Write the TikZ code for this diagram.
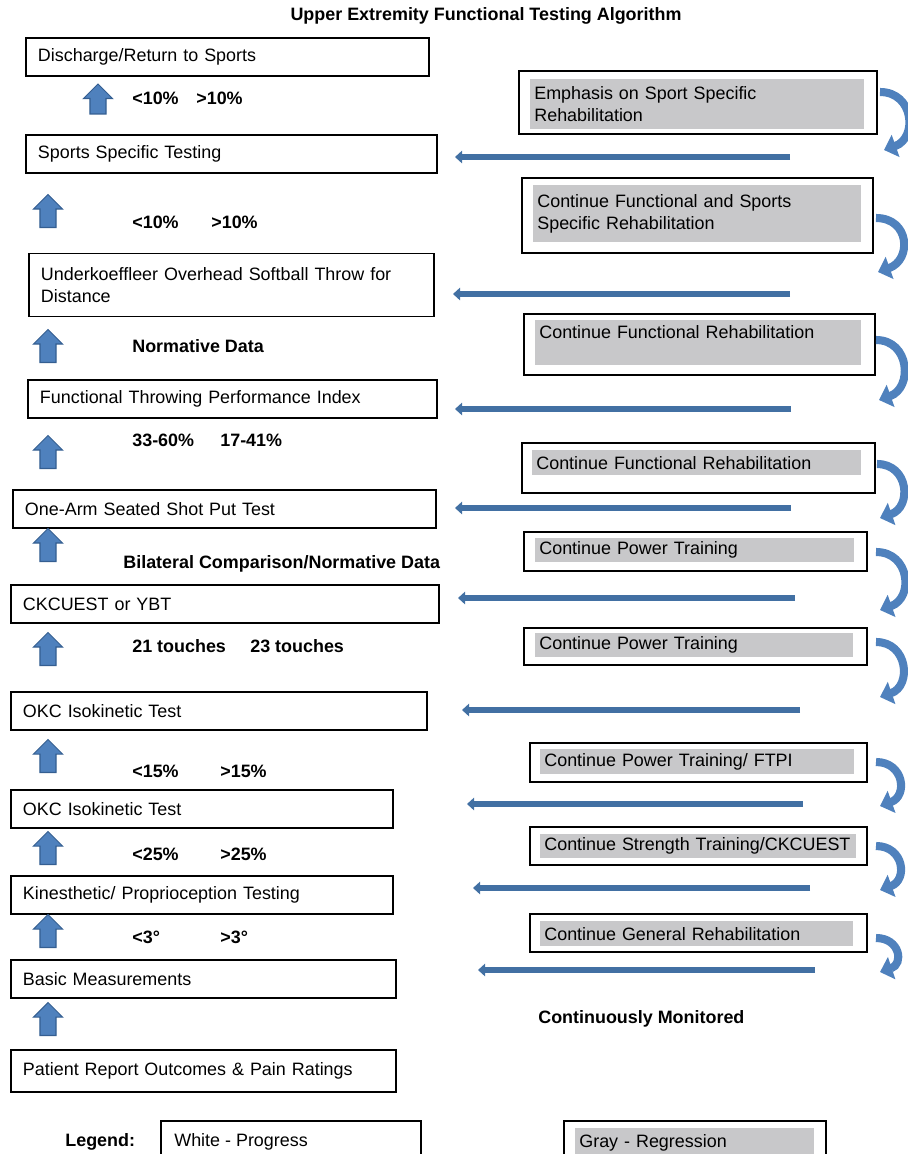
\documentclass[tikz,border=0pt]{standalone}
\usepackage{fontspec}
\setmainfont{Liberation Sans}
\usepackage{tikz}
\usetikzlibrary{positioning,arrows.meta,shapes.arrows}

\definecolor{arrblue}{RGB}{79,129,189}
\definecolor{arrdark}{RGB}{52,94,145}
\definecolor{linblue}{RGB}{66,112,163}
\definecolor{regray}{RGB}{200,200,202}

\begin{document}
\begin{tikzpicture}[x=0.02cm, y=-0.02cm,
  font=\fontsize{10.2}{12.5}\selectfont,
  lbox/.style={draw, line width=1.1pt, anchor=west, align=left, inner xsep=0.24cm, text width=#1, minimum height=0.76cm},
  rout/.style={draw, line width=1.1pt, anchor=north west, inner sep=0pt},
  rin/.style={fill=regray, anchor=north west, align=left, inner xsep=0.08cm, inner ysep=0.04cm, text width=#1},
  lab/.style={font=\fontsize{10.2}{12.5}\selectfont\bfseries, anchor=west, inner sep=0pt},
  uparr/.style={single arrow, draw=arrdark, fill=arrblue, line width=0.6pt, shape border rotate=90, inner sep=0.15cm, minimum height=0.66cm, single arrow head extend=0.13cm},
  back/.style={line width=3.2pt, draw=linblue, -{Triangle[length=4pt,width=7pt]}},
  curv/.style={line width=4.6pt, draw=arrblue, -{Triangle[length=7pt,width=13pt]}}
]
\useasboundingbox (0,0) rectangle (908,1154);
\clip (0,0) rectangle (908,1154);

% Title
\node[lab, anchor=center] (title) at (486,16) {Upper Extremity Functional Testing Algorithm};

% Testing steps (left column)
\node[lbox=7.58cm] (t1) at (25,57) {Discharge/Return to Sports};
\node[lbox=7.74cm] (t2) at (25,154) {Sports Specific Testing};
\node[lbox=7.62cm, minimum height=1.26cm] (t3) at (28,285) {Underkoeffleer Overhead Softball Throw for\\Distance};
\node[lbox=7.70cm] (t4) at (27,399) {Functional Throwing Performance Index};
\node[lbox=7.98cm] (t5) at (12,509) {One-Arm Seated Shot Put Test};
\node[lbox=8.08cm] (t6) at (10,604) {CKCUEST or YBT};
\node[lbox=7.84cm] (t7) at (10,711) {OKC Isokinetic Test};
\node[lbox=7.16cm] (t8) at (10,809) {OKC Isokinetic Test};
\node[lbox=7.16cm] (t9) at (10,895) {Kinesthetic/ Proprioception Testing};
\node[lbox=7.22cm] (t10) at (10,979) {Basic Measurements};
\node[lbox=7.22cm, minimum height=0.84cm] (t11) at (10,1071) {Patient Report Outcomes \& Pain Ratings};

% Progress arrows
\node[uparr, minimum height=0.6cm] (up1) at (98,103) {};
\node[uparr] (up2) at (48,215) {};
\node[uparr] (up3) at (48,350) {};
\node[uparr] (up4) at (48,456) {};
\node[uparr] (up5) at (48,549) {};
\node[uparr] (up6) at (48,653) {};
\node[uparr] (up7) at (48,760) {};
\node[uparr] (up8) at (48,852) {};
\node[uparr] (up9) at (48,935) {};
\node[uparr] (up10) at (48,1023) {};

% Criteria
\node[lab] (k1a) at (132,98) {<10\%};
\node[lab] (k1b) at (196,98) {>10\%};
\node[lab] (k2a) at (132,222) {<10\%};
\node[lab] (k2b) at (211,222) {>10\%};
\node[lab] (k3) at (132,346) {Normative Data};
\node[lab] (k4a) at (132,440) {33-60\%};
\node[lab] (k4b) at (220,440) {17-41\%};
\node[lab] (k5) at (123,564) {Bilateral Comparison/Normative Data};
\node[lab] (k6a) at (132,646) {21 touches};
\node[lab] (k6b) at (250,646) {23 touches};
\node[lab] (k7a) at (132,771) {<15\%};
\node[lab] (k7b) at (220,771) {>15\%};
\node[lab] (k8a) at (132,854) {<25\%};
\node[lab] (k8b) at (220,854) {>25\%};
\node[lab] (k9a) at (132,937) {<3°};
\node[lab] (k9b) at (220,937) {>3°};

% Regression boxes (right column)
\node[rout, minimum width=7.16cm, minimum height=1.26cm] (r1) at (518,70) {};
\node[rin=6.52cm, minimum height=1.0cm] (g1) at (530,79) {Emphasis on Sport Specific\\Rehabilitation};
\node[rout, minimum width=7.02cm, minimum height=1.5cm] (r2) at (521,177) {};
\node[rin=6.40cm, minimum height=1.14cm] (g2) at (533,185) {Continue Functional and Sports\\Specific Rehabilitation};
\node[rout, minimum width=7.02cm, minimum height=1.22cm] (r3) at (523,313) {};
\node[rin=6.36cm, inner ysep=0.1cm, text depth=0.44cm] (g3) at (535,320) {Continue Functional Rehabilitation};
\node[rout, minimum width=7.06cm, minimum height=1.0cm] (r4) at (521,442) {};
\node[rin=6.42cm, minimum height=0.5cm] (g4) at (532,450) {Continue Functional Rehabilitation};
\node[rout, minimum width=6.86cm, minimum height=0.78cm] (r5) at (523,531) {};
\node[rin=6.22cm, minimum height=0.48cm] (g5) at (535,538) {Continue Power Training};
\node[rout, minimum width=6.86cm, minimum height=0.74cm] (r6) at (523,627) {};
\node[rin=6.20cm, minimum height=0.48cm] (g6) at (535,633) {Continue Power Training};
\node[rout, minimum width=6.74cm, minimum height=0.78cm] (r7) at (529,742) {};
\node[rin=6.12cm, minimum height=0.5cm] (g7) at (540,749) {Continue Power Training/ FTPI};
\node[rout, minimum width=6.74cm, minimum height=0.76cm] (r8) at (529,826) {};
\node[rin=6.16cm, minimum height=0.48cm] (g8) at (540,834) {Continue Strength Training/CKCUEST};
\node[rout, minimum width=6.74cm, minimum height=0.76cm] (r9) at (529,913) {};
\node[rin=6.10cm, minimum height=0.5cm] (g9) at (540,921) {Continue General Rehabilitation};

\node[lab] (mon) at (538,1019) {Continuously Monitored};

% Regression arrows
\coordinate (c1s) at (880,92);  \coordinate (c1e) at (884,150);
\coordinate (c2s) at (876,218); \coordinate (c2e) at (878,272);
\coordinate (c3s) at (876,340); \coordinate (c3e) at (879,400);
\coordinate (c4s) at (877,464); \coordinate (c4e) at (880,518);
\coordinate (c5s) at (876,552); \coordinate (c5e) at (880,610);
\coordinate (c6s) at (876,642); \coordinate (c6e) at (880,697);
\coordinate (c7s) at (876,762); \coordinate (c7e) at (880,806);
\coordinate (c8s) at (876,846); \coordinate (c8e) at (880,890);
\coordinate (c9s) at (876,938); \coordinate (c9e) at (880,972);
\draw[curv] (c1s) .. controls +(34,0) and +(34,-12) .. (c1e);
\draw[curv] (c2s) .. controls +(34,0) and +(34,-12) .. (c2e);
\draw[curv] (c3s) .. controls +(34,0) and +(34,-12) .. (c3e);
\draw[curv] (c4s) .. controls +(32,0) and +(32,-11) .. (c4e);
\draw[curv] (c5s) .. controls +(34,0) and +(34,-12) .. (c5e);
\draw[curv] (c6s) .. controls +(32,0) and +(32,-11) .. (c6e);
\draw[curv] (c7s) .. controls +(28,0) and +(28,-10) .. (c7e);
\draw[curv] (c8s) .. controls +(28,0) and +(28,-10) .. (c8e);
\draw[curv] (c9s) .. controls +(24,0) and +(24,-8) .. (c9e);

\coordinate (b1s) at (790,157); \coordinate (b1e) at (455,157);
\coordinate (b2s) at (790,294); \coordinate (b2e) at (453,294);
\coordinate (b3s) at (791,409); \coordinate (b3e) at (455,409);
\coordinate (b4s) at (791,508); \coordinate (b4e) at (455,508);
\coordinate (b5s) at (795,598); \coordinate (b5e) at (458,598);
\coordinate (b6s) at (800,710); \coordinate (b6e) at (462,710);
\coordinate (b7s) at (803,804); \coordinate (b7e) at (467,804);
\coordinate (b8s) at (810,888); \coordinate (b8e) at (473,888);
\coordinate (b9s) at (815,970); \coordinate (b9e) at (478,970);
\draw[back] (b1s) -- (b1e);
\draw[back] (b2s) -- (b2e);
\draw[back] (b3s) -- (b3e);
\draw[back] (b4s) -- (b4e);
\draw[back] (b5s) -- (b5e);
\draw[back] (b6s) -- (b6e);
\draw[back] (b7s) -- (b7e);
\draw[back] (b8s) -- (b8e);
\draw[back] (b9s) -- (b9e);

% Legend
\node[lab] (leg) at (65,1142) {Legend:};
\node[rout, minimum width=5.2cm, minimum height=1.0cm] (lw) at (160,1120) {};
\node[anchor=west, inner sep=0pt] (lwt) at (174,1142) {White - Progress};
\node[rout, minimum width=5.24cm, minimum height=1.0cm] (lg) at (563,1120) {};
\node[rin=4.62cm, minimum height=0.9cm, text depth=0.4cm] (lgt) at (575,1128) {Gray - Regression};

\end{tikzpicture}
\end{document}
